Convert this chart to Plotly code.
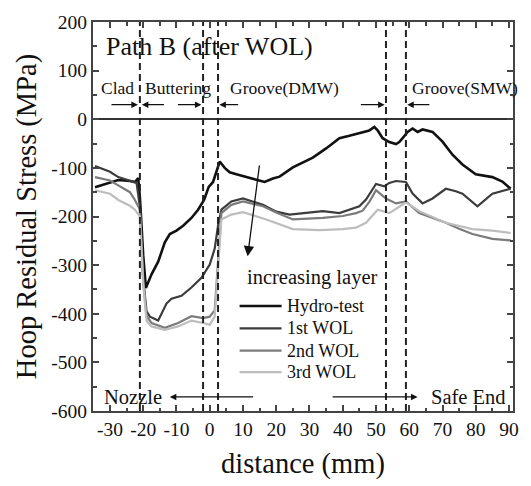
import plotly.graph_objects as go

# Hoop residual stress along path B after weld overlay (WOL)
hydro_x = [-34.5, -30, -27.5, -24, -22.5, -21.5, -21, -20, -19.2, -17.5, -15.5, -13.5, -12, -10, -8,
           -5.5, -3.5, -1.7, -0.3, 1, 2, 3, 4.5, 6, 8, 11, 14, 16.5, 19, 21, 25, 29, 31, 35, 39, 42,
           45, 48, 49.5, 50.5, 52, 54, 56, 57, 58, 59.5, 61, 62.5, 64, 67, 70, 73, 76, 80, 85, 88, 90.5]
hydro_y = [-140, -130, -125, -127, -129, -121, -160, -280, -347, -319, -293, -253, -236, -229, -219,
           -203, -186, -166, -139, -129, -109, -87, -100, -109, -113, -119, -124, -129, -122, -118,
           -99, -86, -79, -60, -39, -34, -29, -23, -16, -23, -39, -47, -51, -47, -39, -26, -19, -26,
           -21, -26, -46, -73, -93, -113, -119, -128, -143]

wol1_x = [-34.5, -30, -27.5, -24, -22, -21, -20, -19, -18, -15.5, -13, -11.5, -8.5, -5.5, -2.5, 0,
          1.5, 2.5, 3.5, 6.5, 10, 16, 20, 24, 29, 34, 39, 42, 45, 47, 50, 52.5, 54, 56, 59, 61, 64,
          67, 71, 74, 76, 80.5, 85, 90.5]
wol1_y = [-96, -108, -119, -126, -131, -180, -330, -395, -406, -414, -379, -369, -363, -346, -326,
          -299, -266, -219, -186, -169, -163, -176, -190, -196, -192, -189, -193, -186, -179, -165,
          -133, -138, -131, -127, -129, -153, -173, -163, -143, -148, -153, -179, -153, -143]

wol2_x = [-34.5, -30, -27.5, -24, -22.5, -21, -20, -19, -17.5, -13.5, -9.5, -5.5, -2, 0, 1.5, 2.5,
          3.5, 6.5, 10, 16, 20, 25, 30, 34, 40, 44, 46, 48, 50, 53, 56, 59, 63, 67, 71, 75, 79, 85,
          90.5]
wol2_y = [-119, -126, -136, -150, -166, -185, -330, -405, -419, -429, -419, -405, -409, -406, -393,
          -299, -193, -176, -169, -179, -192, -206, -205, -203, -199, -193, -188, -170, -146, -163,
          -173, -169, -193, -203, -213, -225, -236, -246, -249]

wol3_x = [-34.5, -30, -27.5, -24, -22.5, -21, -20, -19, -17.5, -13.5, -9.5, -5.5, -2, 0, 1.5, 2.5,
          3.5, 6.5, 10, 17, 25, 33, 40, 44, 47, 50.5, 54, 57, 59, 63, 71, 79, 85, 90.5]
wol3_y = [-146, -153, -166, -178, -186, -200, -340, -415, -426, -433, -426, -414, -419, -423, -406,
          -313, -206, -196, -191, -206, -226, -228, -226, -223, -213, -186, -193, -180, -171, -189,
          -213, -226, -229, -234]

series_names = ["Hydro-test", "1st WOL", "2nd WOL", "3rd WOL"]
series_colors = ["#111111", "#3c3c3c", "#7b7b7b", "#bdbdbd"]
series_widths = [2.6, 2.2, 2.2, 2.2]

# weld region boundaries (mm)
boundaries = [-21, -2, 2.5, 53, 59]

x_ticks = [-30, -20, -10, 0, 10, 20, 30, 40, 50, 60, 70, 80, 90]
x_tick_text = ["-30", "-20", "-10", "0", "10", "20", "30", "40", "50", "60", "70", "80", "90"]
y_ticks = [200, 100, 0, -100, -200, -300, -400, -500, -600]
y_tick_text = ["200", "100", "0", "-100", "-200", "-300", "-400", "-500", "-600"]

FONT = "Liberation Serif, Times New Roman, serif"
INK = "#111111"

fig = go.Figure()
for xs, ys, name, col, w in zip([hydro_x, wol1_x, wol2_x, wol3_x],
                                [hydro_y, wol1_y, wol2_y, wol3_y],
                                series_names, series_colors, series_widths):
    fig.add_trace(go.Scatter(x=xs, y=ys, mode="lines", name=name, showlegend=False,
                             line=dict(color=col, width=w)))

for b in boundaries:
    fig.add_shape(type="line", xref="x", yref="paper", x0=b, x1=b, y0=0, y1=1,
                  line=dict(color="#222222", width=2, dash="7px,4px"))

annotations = []

def label(text, x, y, size, xanchor="left"):
    annotations.append(dict(text=text, x=x, y=y, xref="x", yref="y", showarrow=False,
                            xanchor=xanchor, yanchor="middle",
                            font=dict(family=FONT, size=size, color=INK)))

def arrow(x_tail, x_head, y_tail, y_head, size=1.0, width=1.3, head=2):
    annotations.append(dict(text="", x=x_head, y=y_head, ax=x_tail, ay=y_tail,
                            xref="x", yref="y", axref="x", ayref="y", showarrow=True,
                            arrowhead=head, arrowsize=size, arrowwidth=width,
                            arrowcolor=INK, standoff=0, startstandoff=0))

label("Path B (after WOL)", -31.8, 149, 26)
label("Clad", -33.2, 64, 17.5)
label("Buttering", -20.2, 64, 17.5)
label("Groove(DMW)", 5.5, 64, 17.5)
label("Groove(SMW)", 60.3, 64, 17.5)

# region arrows pointing at the boundaries
arrow(-30, -21.6, 30, 30)
arrow(-13.3, -20.4, 30, 30)
arrow(-10, -2.5, 30, 30)
arrow(9, 2.9, 30, 30)
arrow(45, 52.6, 30, 30)
arrow(66.5, 59.4, 30, 30)

# trend arrow
arrow(15, 11.4, -92, -282, size=1.6, width=1.3, head=2)
label("increasing layer", 10.5, -325, 20.5)

# direction labels along the bottom
label("Nozzle", -32.5, -571, 20.5)
arrow(13.5, -12, -571, -571)
label("Safe End", 89.7, -571, 20.5, xanchor="right")
arrow(36.5, 62.5, -571, -571)

# key: sample line + name for each series, stacked in the lower middle
key_x0, key_x1, key_text_x = 0.349, 0.449, 0.456
key_y = [0.27, 0.2125, 0.155, 0.1]
for name, col, w, ky in zip(series_names, series_colors, series_widths, key_y):
    fig.add_shape(type="line", xref="paper", yref="paper", x0=key_x0, x1=key_x1, y0=ky, y1=ky,
                  line=dict(color=col, width=w))
    annotations.append(dict(text=name, x=key_text_x, y=ky, xref="paper", yref="paper",
                            showarrow=False, xanchor="left", yanchor="middle",
                            font=dict(family=FONT, size=18, color=INK)))

fig.update_layout(
    width=531, height=486,
    margin=dict(l=93, r=17, t=17, b=69),
    paper_bgcolor="white", plot_bgcolor="white",
    font=dict(family=FONT, color=INK),
    annotations=annotations,
    showlegend=False,
)

axis_common = dict(
    showline=True, linecolor="#444444", linewidth=2, mirror="ticks",
    ticks="inside", ticklen=6, tickwidth=1.5, tickcolor="#444444",
    showgrid=False, tickfont=dict(family=FONT, size=19.5, color=INK),
)

fig.update_xaxes(
    range=[-35.1, 91.2], tickvals=x_ticks, ticktext=x_tick_text,
    minor=dict(ticks="inside", dtick=5, tick0=0, ticklen=3.5, tickwidth=1.5,
               tickcolor="#444444", showgrid=False),
    title=dict(text="distance (mm)", font=dict(family=FONT, size=28.5, color=INK), standoff=14),
    zeroline=False, **axis_common,
)
fig.update_yaxes(
    range=[-600, 200], tickvals=y_ticks, ticktext=y_tick_text,
    minor=dict(ticks="inside", dtick=50, tick0=0, ticklen=3.5, tickwidth=1.5,
               tickcolor="#444444", showgrid=False),
    title=dict(text="Hoop Residual Stress (MPa)", font=dict(family=FONT, size=28.5, color=INK),
               standoff=6),
    zeroline=True, zerolinecolor="#333333", zerolinewidth=2,
    **axis_common,
)

fig.write_html("out.html")
